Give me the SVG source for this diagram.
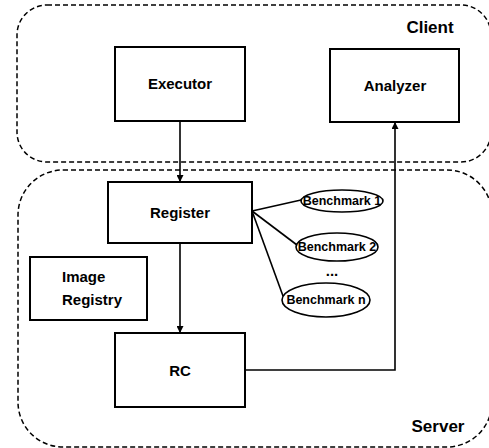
<svg xmlns="http://www.w3.org/2000/svg" width="489" height="448" viewBox="0 0 489 448">
  <style>
    .zone { fill: none; stroke: #000; stroke-width: 1.5; stroke-dasharray: 5 3; }
    .box { fill: #fff; stroke: #000; stroke-width: 2; }
    .bench { fill: #fff; stroke: #000; stroke-width: 1.6; }
    .wire { fill: none; stroke: #000; stroke-width: 1.6; }
    .lbl { font-family: "Liberation Sans", Arial, sans-serif; font-weight: bold; font-size: 15px; text-anchor: middle; fill: #000; }
    .left { text-anchor: start; }
    .zlbl { font-size: 17px; }
    .small { font-size: 12.5px; }
  </style>
  <defs>
    <marker id="arrow" viewBox="0 0 10 10" refX="10" refY="5" markerWidth="7" markerHeight="7" markerUnits="userSpaceOnUse" orient="auto">
      <path d="M0,0 L10,5 L0,10 z" fill="#000"/>
    </marker>
  </defs>

  <!-- zones -->
  <g id="client">
    <rect class="zone" x="17" y="5" width="474" height="157" rx="30"/>
    <text class="lbl zlbl" x="430" y="33">Client</text>
  </g>
  <g id="server">
    <rect class="zone" x="18" y="170" width="474" height="277" rx="45"/>
    <text class="lbl zlbl" x="438" y="432">Server</text>
  </g>

  <!-- connectors -->
  <g id="connectors">
    <line class="wire" x1="180" y1="121" x2="180" y2="182" marker-end="url(#arrow)"/>
    <line class="wire" x1="180" y1="243" x2="180" y2="333" marker-end="url(#arrow)"/>
    <polyline class="wire" points="245,370 395,370 395,122" marker-end="url(#arrow)"/>
    <line class="wire" x1="252" y1="211" x2="301" y2="200"/>
    <line class="wire" x1="252" y1="211" x2="297" y2="245"/>
    <line class="wire" x1="252" y1="211" x2="283" y2="296"/>
  </g>

  <!-- nodes -->
  <g id="executor">
    <rect class="box" x="115" y="47" width="130" height="74"/>
    <text class="lbl" x="180" y="89">Executor</text>
  </g>
  <g id="analyzer">
    <rect class="box" x="330" y="49" width="129" height="73"/>
    <text class="lbl" x="395" y="91">Analyzer</text>
  </g>
  <g id="register">
    <rect class="box" x="108" y="182" width="144" height="61"/>
    <text class="lbl" x="180" y="218">Register</text>
  </g>
  <g id="image-registry">
    <rect class="box" x="30" y="257" width="117" height="63"/>
    <text class="lbl left" x="62" y="282">Image</text>
    <text class="lbl left" x="62" y="305">Registry</text>
  </g>
  <g id="rc">
    <rect class="box" x="115" y="333" width="130" height="74"/>
    <text class="lbl" x="180" y="376">RC</text>
  </g>
  <g id="benchmark-1">
    <ellipse class="bench" cx="342" cy="201" rx="41" ry="11"/>
    <text class="lbl small" x="342" y="205">Benchmark 1</text>
  </g>
  <g id="benchmark-2">
    <ellipse class="bench" cx="337" cy="247" rx="41" ry="14"/>
    <text class="lbl small" x="337" y="251">Benchmark 2</text>
  </g>
  <g id="ellipsis">
    <text class="lbl" x="332" y="276">...</text>
  </g>
  <g id="benchmark-n">
    <ellipse class="bench" cx="326" cy="300" rx="44" ry="17"/>
    <text class="lbl small" x="326" y="304">Benchmark n</text>
  </g>
</svg>
